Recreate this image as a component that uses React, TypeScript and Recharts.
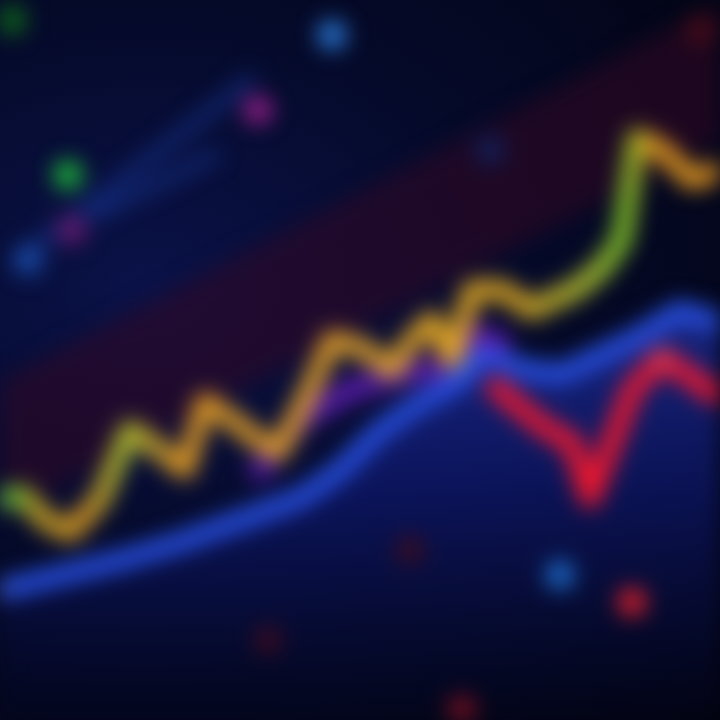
import React from "react";
import {
  Area,
  ComposedChart,
  Line,
  Scatter,
  XAxis,
  YAxis,
} from "recharts";

// positions along the horizontal, levels measured from the bottom
const goldX = [0, 22, 45, 70, 100, 130, 160, 185, 205, 232, 258, 278, 305, 332, 362, 392, 412, 432, 452, 472, 502, 532, 552, 575, 602, 622, 637, 662, 692, 720];
const goldY = [220, 225, 200, 188, 220, 290, 270, 250, 318, 300, 280, 268, 320, 380, 372, 350, 380, 400, 360, 430, 430, 410, 420, 430, 452, 480, 582, 570, 540, 550];

const blueX = [0, 60, 120, 180, 240, 300, 340, 380, 420, 460, 485, 520, 560, 600, 640, 680, 720];
const blueY = [130, 145, 160, 178, 200, 222, 250, 290, 318, 340, 368, 352, 346, 365, 385, 410, 398];

const violetX = [260, 300, 350, 400, 440, 475, 500];
const violetY = [250, 300, 330, 345, 352, 385, 378];

const redX = [490, 520, 548, 572, 590, 606, 632, 662, 692, 720];
const redY = [338, 312, 290, 278, 222, 262, 330, 362, 342, 322];

const glowX = [-40, 760];
const glowY = [250, 670];

const streakAX = [20, 110, 250];
const streakAY = [462, 530, 640];
const streakBX = [95, 215];
const streakBY = [505, 565];

const dotX = [332, 258, 68, 28, 72, 490, 560, 632, 410, 268, 462, 12, 700];
const dotY = [685, 610, 545, 460, 490, 570, 145, 118, 170, 80, 10, 700, 690];
const dotColor = ["#2c7fe0", "#9a1f8a", "#1fbf3a", "#1b4fb0", "#6a1a70", "#12205a", "#1e6fd0", "#e0202a", "#3a0c20", "#3a0c22", "#7a1020", "#0f6a1a", "#4a0c18"];

const toRows = (xs: number[], ys: number[]) => xs.map((x, i) => ({ x, y: ys[i] }));

const gold = toRows(goldX, goldY);
const blue = toRows(blueX, blueY);
const violet = toRows(violetX, violetY);
const red = toRows(redX, redY);
const glow = toRows(glowX, glowY);
const streakA = toRows(streakAX, streakAY);
const streakB = toRows(streakBX, streakBY);
const dots = dotX.map((x, i) => ({ x, y: dotY[i], c: dotColor[i] }));

const Bokeh = (props: any) => {
  const { cx, cy, payload } = props;
  return <circle cx={cx} cy={cy} r={14} fill={payload.c} />;
};

export default function App() {
  return (
    <div
      style={{
        position: "fixed",
        left: 0,
        top: 0,
        width: 720,
        height: 720,
        overflow: "hidden",
        background:
          "radial-gradient(ellipse at 20% 40%, #0a1248 0%, #050a2a 45%, #02030f 100%)",
      }}
    >
      <div style={{ filter: "blur(11px)" }}>
        <ComposedChart width={720} height={720} margin={{ top: 0, right: 0, bottom: 0, left: 0 }}>
          <defs>
            <linearGradient id="goldStroke" x1="0" y1="0" x2="1" y2="0">
              <stop offset="0" stopColor="#27d43a" />
              <stop offset="0.05" stopColor="#d8b020" />
              <stop offset="0.12" stopColor="#e8a020" />
              <stop offset="0.17" stopColor="#b0c830" />
              <stop offset="0.24" stopColor="#e8a024" />
              <stop offset="0.5" stopColor="#eaa82a" />
              <stop offset="0.72" stopColor="#e8b020" />
              <stop offset="0.82" stopColor="#b8d030" />
              <stop offset="0.87" stopColor="#80d028" />
              <stop offset="0.9" stopColor="#f0a820" />
              <stop offset="1" stopColor="#f09a20" />
            </linearGradient>
            <linearGradient id="blueFill" x1="0" y1="0" x2="0" y2="1">
              <stop offset="0" stopColor="#2a3fd0" stopOpacity={0.9} />
              <stop offset="0.45" stopColor="#121e88" stopOpacity={0.85} />
              <stop offset="1" stopColor="#03051c" stopOpacity={0.6} />
            </linearGradient>
          </defs>
          <XAxis type="number" dataKey="x" domain={[0, 720]} hide allowDataOverflow />
          <YAxis type="number" dataKey="y" domain={[0, 720]} hide allowDataOverflow />
          <Line data={glow} dataKey="y" stroke="#330822" strokeWidth={120} strokeOpacity={0.55} dot={false} isAnimationActive={false} />
          <Line data={streakA} dataKey="y" stroke="#15318a" strokeWidth={12} strokeOpacity={0.8} strokeLinecap="round" dot={false} isAnimationActive={false} />
          <Line data={streakB} dataKey="y" stroke="#1a3aa0" strokeWidth={10} strokeOpacity={0.7} strokeLinecap="round" dot={false} isAnimationActive={false} />
          <Area data={blue} dataKey="y" stroke="#2a55f0" strokeWidth={18} fill="url(#blueFill)" dot={false} isAnimationActive={false} />
          <Line data={violet} dataKey="y" stroke="#6a20c0" strokeWidth={22} strokeOpacity={0.8} strokeLinecap="round" dot={false} isAnimationActive={false} />
          <Line data={red} dataKey="y" stroke="#f0182e" strokeWidth={20} strokeLinejoin="round" dot={false} isAnimationActive={false} />
          <Line data={gold} dataKey="y" stroke="url(#goldStroke)" strokeWidth={18} strokeLinejoin="round" dot={false} isAnimationActive={false} />
          <Scatter data={dots} dataKey="y" shape={Bokeh} isAnimationActive={false} />
        </ComposedChart>
      </div>
    </div>
  );
}
